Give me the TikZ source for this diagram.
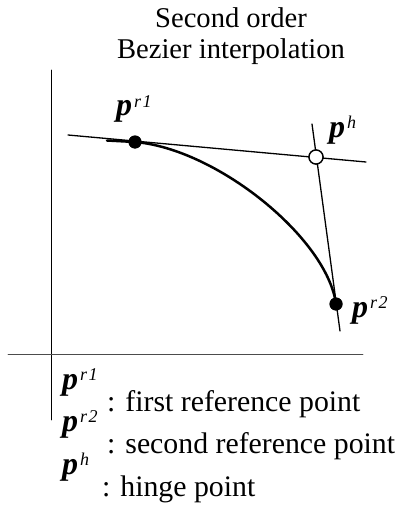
\documentclass[tikz,border=0pt]{standalone}
\usepackage{fontspec}
\setmainfont{Liberation Serif}
\usepackage{tikz}
\usetikzlibrary{calc}

% label of a point: bold italic p with an italic superscript
\newcommand{\ptlab}[1]{{\fontsize{32}{32}\selectfont\bfseries\itshape p}\kern2pt\raisebox{9pt}{\fontsize{18}{18}\selectfont\itshape #1}}

\begin{document}
\begin{tikzpicture}[
    x=1pt, y=-1pt,
    line cap=round,
    line join=round,
    every node/.style={font=\fontsize{28.6}{31}\selectfont, inner sep=0pt},
    legend/.style={font=\fontsize{29.8}{31}\selectfont, anchor=base west},
    fulldot/.style={circle, fill=black, minimum size=13pt},
    opendot/.style={circle, draw=black, fill=white, line width=1.3pt, minimum size=14pt},
    axis/.style={line width=0.9pt},
    tangent/.style={line width=1.3pt}
]
\useasboundingbox (0,0) rectangle (394,532);

% Titolo
\node[align=center] (title) at (231,36) {Second order\\Bezier interpolation};

% Assi
\draw[axis] (51,70) -- (51,420);
\draw[axis, black!70] (8,354) -- (363,354);

% Punti
\node[fulldot] (r1) at (135,142) {};
\node[opendot] (h) at (316,157) {};
\node[fulldot] (r2) at (336,304) {};

% Tangenti
\coordinate (t1a) at (68,135);
\coordinate (t1b) at (366,162);
\coordinate (t2a) at (312,124);
\coordinate (t2b) at (340,331);
\draw[tangent] (t1a) -- (t1b);
\draw[tangent] (t2a) -- (t2b);

% Curva di Bezier
\coordinate (c0) at (107,140.5);
\draw[line width=2.5pt] (c0) -- (r1.center)
    .. controls ($(r1.center)!0.45!(h.center)$) and ($(r2.center)!0.45!(h.center)$) .. (r2.center);

% redraw the dots on top
\node[fulldot] at (r1) {};
\node[opendot] at (h) {};
\node[fulldot] at (r2) {};

% Etichette
\node[anchor=base west] (lr1) at (116,116) {\ptlab{r\kern1.5pt 1}};
\node[anchor=base west] (lh) at (329,137) {\ptlab{h}};
\node[anchor=base west] (lr2) at (352,317) {\ptlab{r\kern1.5pt 2}};

% Legenda
\node[legend] (k1) at (62,389) {\ptlab{r\kern1.5pt 1}};
\node[legend] (k1t) at (107,411) {: first reference point};
\node[legend] (k2) at (62,431) {\ptlab{r\kern1.5pt 2}};
\node[legend] (k2t) at (107,453) {: second reference point};
\node[legend] (k3) at (62,474) {\ptlab{h}};
\node[legend] (k3t) at (102,496) {: hinge point};

\end{tikzpicture}
\end{document}
